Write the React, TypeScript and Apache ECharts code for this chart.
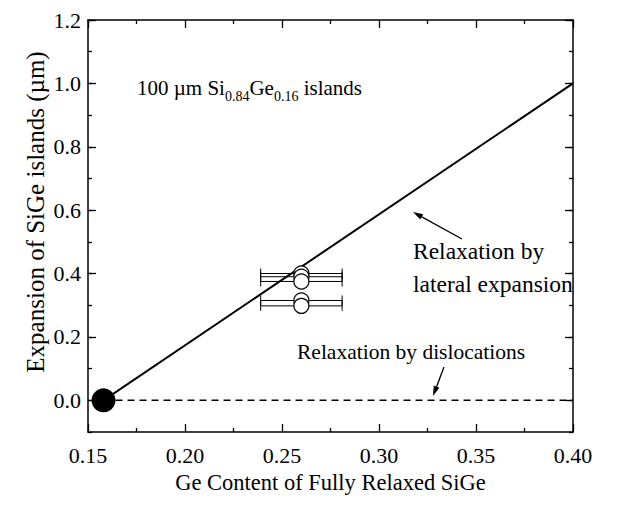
import React, { useEffect, useRef } from "react";
import * as echarts from "echarts";

// ---- data ----
const lateralLine: number[][] = [[0.158, 0.0], [0.40, 1.0]];
const dislocationLine: number[][] = [[0.158, 0.0], [0.40, 0.0]];
const startPoint: number[][] = [[0.158, 0.0]];
const islandX = 0.26;
const islandY: number[] = [0.40, 0.39, 0.375, 0.315, 0.298];
const islandXErr = 0.021;
const xTickLabels: string[] = ["0.15", "0.20", "0.25", "0.30", "0.35", "0.40"];
const yMajorTicks: number[] = [0, 0.2, 0.4, 0.6, 0.8, 1.0, 1.2];

const FONT = "Times New Roman, Liberation Serif, DejaVu Serif, serif";

function arrow(tail: number[], head: number[]) {
  const dx = head[0] - tail[0];
  const dy = head[1] - tail[1];
  const len = Math.sqrt(dx * dx + dy * dy);
  const ux = dx / len, uy = dy / len;
  const L = 10, W = 3;
  const bx = head[0] - ux * L, by = head[1] - uy * L;
  return {
    type: "group",
    children: [
      { type: "line", shape: { x1: tail[0], y1: tail[1], x2: bx, y2: by }, style: { stroke: "#000", lineWidth: 1.3 } },
      {
        type: "polygon",
        shape: { points: [[head[0], head[1]], [bx - uy * W, by + ux * W], [bx + uy * W, by - ux * W]] },
        style: { fill: "#000" },
      },
    ],
  };
}

export default function App() {
  const ref = useRef<HTMLDivElement>(null);
  useEffect(() => {
    if (!ref.current) return;
    const chart = echarts.init(ref.current, null, { renderer: "svg" });
    const axisLine = { show: true, onZero: false, lineStyle: { color: "#000", width: 1.5 } };
    const labelStyle = { color: "#000", fontFamily: FONT, fontSize: 22 };
    const xBase = {
      type: "value",
      min: 0.15,
      max: 0.40,
      interval: 0.05,
      axisLine,
      axisTick: { show: true, inside: true, length: 8, lineStyle: { color: "#000", width: 1.3 } },
      minorTick: { show: true, splitNumber: 2, length: 4, lineStyle: { color: "#000", width: 1.3 } },
      splitLine: { show: false },
      minorSplitLine: { show: false },
    };
    const yMinor = {
      type: "value",
      min: -0.1,
      max: 1.2,
      interval: 0.1,
      axisLine,
      axisTick: { show: true, inside: true, length: 4, lineStyle: { color: "#000", width: 1.3 } },
      splitLine: { show: false },
    };
    const yMajor = {
      type: "value",
      min: -0.1,
      max: 1.2,
      axisLine: { show: false, onZero: false },
      axisTick: { show: true, inside: true, length: 8, customValues: yMajorTicks, lineStyle: { color: "#000", width: 1.3 } },
      axisLabel: { show: false, customValues: yMajorTicks },
      splitLine: { show: false },
    };
    const option: any = {
      animation: false,
      backgroundColor: "#fff",
      textStyle: { fontFamily: FONT },
      grid: { left: 88, right: 63, top: 20, bottom: 74, containLabel: false },
      xAxis: [
        {
          ...xBase,
          position: "bottom",
          axisLabel: {
            ...labelStyle,
            margin: 12,
            formatter: (v: number) => {
              const i = Math.round((v - 0.15) / 0.05);
              return xTickLabels[i] ?? "";
            },
          },
          name: "Ge Content of Fully Relaxed SiGe",
          nameLocation: "middle",
          nameGap: 37,
          nameTextStyle: { color: "#000", fontFamily: FONT, fontSize: 22.5 },
        },
        { ...xBase, position: "top", axisLabel: { show: false } },
      ],
      yAxis: [
        {
          ...yMinor,
          position: "left",
          axisLabel: {
            ...labelStyle,
            margin: 7,
            formatter: (v: number) => {
              const k = Math.round(v * 10);
              return k >= 0 && k % 2 === 0 ? (k / 10).toFixed(1) : "";
            },
          },
        },
        { ...yMinor, position: "right", axisLabel: { show: false } },
        { ...yMajor, position: "left" },
        { ...yMajor, position: "right" },
      ],
      graphic: [
        {
          type: "text",
          x: 35,
          y: 212,
          rotation: Math.PI / 2,
          style: {
            text: "Expansion of SiGe islands (µm)",
            fontFamily: FONT,
            fontSize: 25,
            fill: "#000",
            align: "center",
            verticalAlign: "middle",
          },
        },
        {
          type: "text",
          x: 137,
          y: 88,
          style: {
            text: "{a|100 µm Si}{s|0.84}{a|Ge}{s|0.16}{a| islands}",
            verticalAlign: "middle",
            rich: {
              a: { fontFamily: FONT, fontSize: 21, lineHeight: 30, fill: "#000" },
              s: { fontFamily: FONT, fontSize: 14, lineHeight: 14, verticalAlign: "bottom", fill: "#000" },
            },
          },
        },
        { type: "text", x: 413, y: 251, style: { text: "Relaxation by", fontFamily: FONT, fontSize: 23.5, fill: "#000", verticalAlign: "middle" } },
        { type: "text", x: 413, y: 284, style: { text: "lateral expansion", fontFamily: FONT, fontSize: 23.5, fill: "#000", verticalAlign: "middle" } },
        { type: "text", x: 297, y: 352, style: { text: "Relaxation by dislocations", fontFamily: FONT, fontSize: 21.5, fill: "#000", verticalAlign: "middle" } },
        arrow([462, 239], [413, 212]),
        arrow([444, 367], [433, 396]),
      ],
      series: [
        {
          type: "line",
          data: dislocationLine,
          showSymbol: false,
          symbol: "none",
          lineStyle: { color: "#000", width: 1.5, type: [7, 5] },
          z: 2,
        },
        {
          type: "line",
          data: lateralLine,
          showSymbol: false,
          symbol: "none",
          lineStyle: { color: "#000", width: 2 },
          z: 3,
        },
        {
          type: "custom",
          data: islandY.map((y) => [islandX, y, islandX - islandXErr, islandX + islandXErr]),
          renderItem: (params: any, api: any) => {
            const y = api.value(1);
            const p1 = api.coord([api.value(2), y]);
            const p2 = api.coord([api.value(3), y]);
            const h = 5;
            const st = { stroke: "#000", lineWidth: 1 };
            return {
              type: "group",
              children: [
                { type: "line", shape: { x1: p1[0], y1: p1[1], x2: p2[0], y2: p2[1] }, style: st },
                { type: "line", shape: { x1: p1[0], y1: p1[1] - h, x2: p1[0], y2: p1[1] + h }, style: st },
                { type: "line", shape: { x1: p2[0], y1: p2[1] - h, x2: p2[0], y2: p2[1] + h }, style: st },
              ],
            };
          },
          z: 4,
        },
        {
          type: "scatter",
          data: islandY.map((y) => [islandX, y]),
          symbol: "circle",
          symbolSize: 15,
          itemStyle: { color: "#fff", borderColor: "#000", borderWidth: 1.2, opacity: 1 },
          z: 5,
        },
        {
          type: "scatter",
          data: startPoint,
          symbol: "circle",
          symbolSize: 24,
          itemStyle: { color: "#000", opacity: 1 },
          z: 6,
        },
      ],
    };
    chart.setOption(option);
    return () => chart.dispose();
  }, []);
  return <div ref={ref} style={{ position: "fixed", left: 0, top: 0, width: 636, height: 506 }} />;
}
